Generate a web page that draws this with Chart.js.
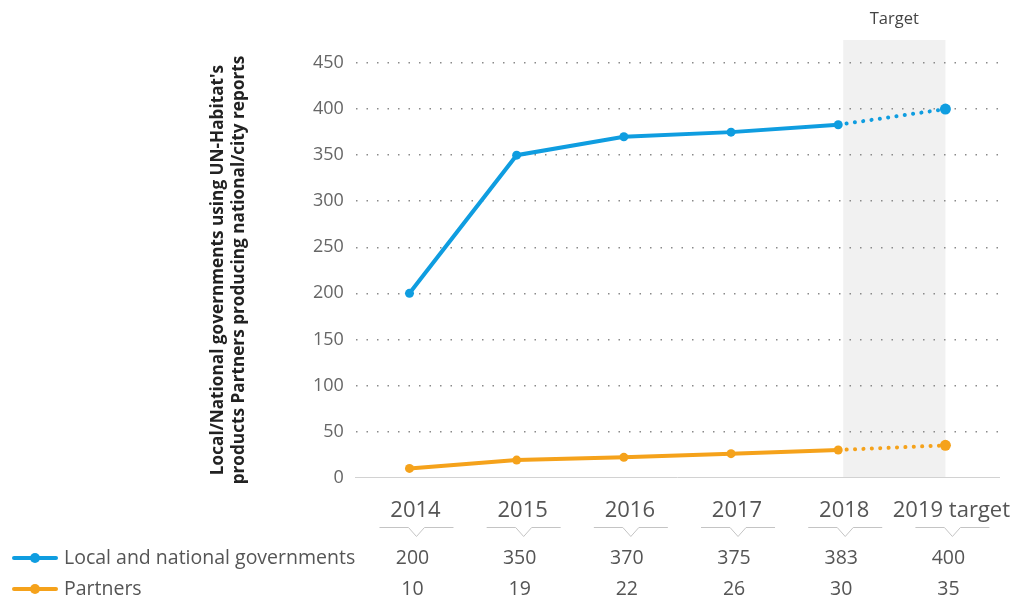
<!DOCTYPE html>
<html>
<head>
<meta charset="utf-8">
<script src="https://cdn.jsdelivr.net/npm/chart.js@4"></script>
<style>
  html, body { margin: 0; padding: 0; background: #fff; }
  #wrap { width: 1035px; height: 600px; }
</style>
</head>
<body>
<div id="wrap"><canvas id="chart"></canvas></div>
<script>
const years = ['2014', '2015', '2016', '2017', '2018', '2019 target'];
const governments = [200, 350, 370, 375, 383, 400];
const partners = [10, 19, 22, 26, 30, 35];
const seriesNames = ['Local and national governments', 'Partners'];
const yTitle = ["Local/National governments using UN-Habitat's", 'products Partners producing national/city reports'];

const blue = '#0f9de0';
const orange = '#f5a21b';
const font = "'Open Sans', sans-serif";

// dotted segment into the target year
const lastSeg = ctx => ctx.p1DataIndex === years.length - 1;

// shaded target column, axis title, chevrons, and the table below
const extras = {
  id: 'extras',
  beforeDraw(chart) {
    const {ctx, chartArea} = chart;
    const xs = chart.scales.x;
    const x0 = xs.getPixelForValue(years.length - 2) + 5;
    const x1 = xs.getPixelForValue(years.length - 1);
    ctx.save();
    ctx.fillStyle = '#f1f1f1';
    ctx.fillRect(x0, chartArea.top, x1 - x0, chartArea.bottom - chartArea.top);
    ctx.fillStyle = '#444';
    ctx.font = '16.5px ' + font;
    ctx.textAlign = 'center';
    ctx.textBaseline = 'middle';
    ctx.fillText('Target', (x0 + x1) / 2, 19);
    ctx.restore();
  },
  afterDraw(chart) {
    const {ctx} = chart;
    const xs = chart.scales.x;
    ctx.save();
    // rotated y title
    ctx.save();
    ctx.translate(0, 270);
    ctx.rotate(-Math.PI / 2);
    ctx.fillStyle = '#222';
    ctx.font = 'bold 17.2px ' + font;
    ctx.textAlign = 'center';
    ctx.textBaseline = 'middle';
    ctx.fillText(yTitle[0], 0, 218);
    ctx.fillText(yTitle[1], 0, 239);
    ctx.restore();
    // chevrons under each year
    ctx.strokeStyle = '#c4c4c4';
    ctx.lineWidth = 1;
    years.forEach((y, i) => {
      const cx = xs.getPixelForValue(i) + 7;
      const ly = 527.5;
      ctx.beginPath();
      ctx.moveTo(cx - 37, ly);
      ctx.lineTo(cx - 8, ly);
      ctx.lineTo(cx, ly + 9);
      ctx.lineTo(cx + 8, ly);
      ctx.lineTo(cx + 37, ly);
      ctx.stroke();
    });
    // table rows with legend keys
    const rows = [[governments, blue], [partners, orange]];
    const rowY = [558, 589];
    rows.forEach(([vals, col], r) => {
      const y = rowY[r];
      ctx.strokeStyle = col;
      ctx.lineWidth = 4;
      ctx.lineCap = 'round';
      ctx.beginPath();
      ctx.moveTo(14, y);
      ctx.lineTo(56, y);
      ctx.stroke();
      ctx.fillStyle = col;
      ctx.beginPath();
      ctx.arc(35, y, 5, 0, Math.PI * 2);
      ctx.fill();
      ctx.fillStyle = '#555';
      ctx.font = '19.5px ' + font;
      ctx.textBaseline = 'middle';
      ctx.textAlign = 'left';
      ctx.fillText(seriesNames[r], 64, y);
      ctx.textAlign = 'center';
      vals.forEach((v, i) => {
        ctx.fillText(String(v), xs.getPixelForValue(i) + 3, y);
      });
    });
    ctx.restore();
  }
};

new Chart(document.getElementById('chart'), {
  type: 'line',
  data: {
    labels: years,
    datasets: [{
      label: seriesNames[0],
      data: governments,
      borderColor: blue,
      backgroundColor: blue,
      borderWidth: 4,
      pointRadius: ctx => ctx.dataIndex === years.length - 1 ? 5.5 : 4.5,
      pointBorderWidth: 0,
      tension: 0,
      segment: {
        borderDash: ctx => lastSeg(ctx) ? [0.1, 8.3] : undefined,
        borderCapStyle: ctx => lastSeg(ctx) ? 'round' : 'butt'
      }
    }, {
      label: seriesNames[1],
      data: partners,
      borderColor: orange,
      backgroundColor: orange,
      borderWidth: 4,
      pointRadius: ctx => ctx.dataIndex === years.length - 1 ? 5.5 : 4.5,
      pointBorderWidth: 0,
      tension: 0,
      segment: {
        borderDash: ctx => lastSeg(ctx) ? [0.1, 8.3] : undefined,
        borderCapStyle: ctx => lastSeg(ctx) ? 'round' : 'butt'
      }
    }]
  },
  options: {
    responsive: true,
    maintainAspectRatio: false,
    animation: false,
    layout: { padding: { left: 301, top: 40, right: 36, bottom: 64 } },
    plugins: {
      legend: { display: false },
      tooltip: { enabled: false }
    },
    scales: {
      x: {
        offset: true,
        grid: { display: false },
        border: { display: true, color: '#d2d2d2', width: 1 },
        ticks: {
          color: '#555',
          font: { family: font, size: 22 },
          padding: 12,
          labelOffset: 6,
          maxRotation: 0,
          autoSkip: false
        }
      },
      y: {
        min: 0,
        max: 475,
        afterBuildTicks: s => { s.ticks = s.ticks.filter(t => t.value % 50 === 0); },
        grid: {
          drawTicks: false,
          color: ctx => ctx.tick && ctx.tick.value === 0 ? 'rgba(0,0,0,0)' : '#8a8a8a',
          lineWidth: 1.5
        },
        border: { display: false, dash: [1.5, 9] },
        ticks: {
          stepSize: 50,
          color: '#666',
          font: { family: font, size: 18 },
          padding: 12
        }
      }
    }
  },
  plugins: [extras]
});
</script>
</body>
</html>
